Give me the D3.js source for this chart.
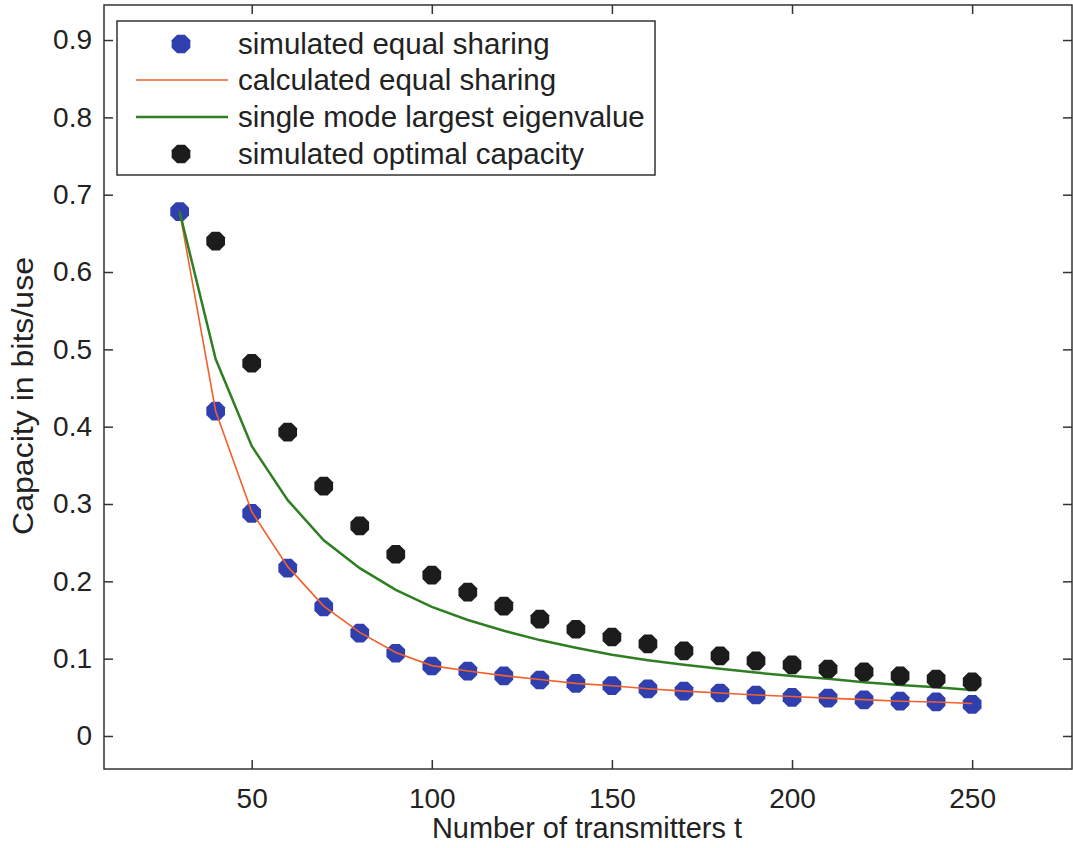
<!DOCTYPE html>
<html><head><meta charset="utf-8">
<script src="https://cdn.jsdelivr.net/npm/d3@7"></script>
<style>
html,body{margin:0;padding:0;background:#fff;}
text{font-family:"Liberation Sans",Arial,Helvetica,sans-serif;fill:#222;}
</style></head>
<body>
<svg id="chart" width="1073" height="848"></svg>
<script>
const transmitters = [30,40,50,60,70,80,90,100,110,120,130,140,150,160,170,180,190,200,210,220,230,240,250];
const simulatedEqual = [0.678,0.420,0.288,0.217,0.167,0.133,0.107,0.0905,0.084,0.0776,0.0724,0.068,0.065,0.061,0.058,0.0556,0.053,0.050,0.049,0.0466,0.045,0.044,0.041];
const calculatedEqual = [0.678,0.420,0.290,0.219,0.168,0.134,0.108,0.091,0.084,0.078,0.073,0.068,0.065,0.061,0.058,0.0556,0.053,0.051,0.049,0.047,0.045,0.044,0.042];
const singleMode = [0.678,0.4875,0.375,0.305,0.253,0.217,0.189,0.167,0.150,0.136,0.124,0.114,0.105,0.098,0.092,0.087,0.082,0.0776,0.074,0.0695,0.066,0.063,0.0595];
const optimalX = [40,50,60,70,80,90,100,110,120,130,140,150,160,170,180,190,200,210,220,230,240,250];
const optimalCapacity = [0.640,0.482,0.393,0.323,0.2716,0.235,0.208,0.186,0.168,0.151,0.138,0.128,0.119,0.110,0.1035,0.097,0.092,0.0866,0.0828,0.0776,0.0737,0.070];
const xTicks = [50,100,150,200,250];
const yTicks = [0,0.1,0.2,0.3,0.4,0.5,0.6,0.7,0.8,0.9];
const legendLabels = ["simulated equal sharing","calculated equal sharing","single mode largest eigenvalue","simulated optimal capacity"];

const colors = {blue:"#2f3fae", orange:"#f2602c", green:"#2f7f22", black:"#1c1c1c", axis:"#333"};

const svg = d3.select("#chart");
const L = 104, R = 1073, T = 5, B = 769;
const x = d3.scaleLinear().domain([9, 278]).range([L, R]);
const y = d3.scaleLinear().domain([-0.0427, 0.9453]).range([B, T]);

// frame
svg.append("rect").attr("x", L).attr("y", T).attr("width", R - L - 1).attr("height", B - T)
  .attr("fill", "none").attr("stroke", colors.axis).attr("stroke-width", 1.5);

// axes (ticks inward)
const xAxis = d3.axisBottom(x).tickValues(xTicks).tickSize(-9).tickPadding(19).tickFormat(d3.format("d"));
const gx = svg.append("g").attr("transform", `translate(0,${B})`).call(xAxis);
const xAxisTop = d3.axisTop(x).tickValues(xTicks).tickSize(-9).tickFormat("");
const gxt = svg.append("g").attr("transform", `translate(0,${T})`).call(xAxisTop);
const yAxis = d3.axisLeft(y).tickValues(yTicks).tickSize(-9).tickPadding(12).tickFormat(d => d === 0 ? "0" : d3.format(".1f")(d));
const gy = svg.append("g").attr("transform", `translate(${L},0)`).call(yAxis);
const yAxisR = d3.axisRight(y).tickValues(yTicks).tickSize(-9).tickFormat("");
const gyr = svg.append("g").attr("transform", `translate(${R - 1},0)`).call(yAxisR);
[gx, gxt, gy, gyr].forEach(g => {
  g.select(".domain").remove();
  g.selectAll(".tick line").attr("stroke", colors.axis).attr("stroke-width", 1.5);
  g.selectAll(".tick text").attr("font-size", 28).attr("fill", "#222")
    .style("font-family", '"Liberation Sans",Arial,sans-serif');
});

// axis labels
svg.append("text").attr("x", 587).attr("y", 838).attr("text-anchor", "middle")
  .attr("font-size", 29).attr("textLength", 310).attr("lengthAdjust", "spacingAndGlyphs")
  .text("Number of transmitters t");
svg.append("text").attr("transform", "translate(33,396) rotate(-90)").attr("text-anchor", "middle")
  .attr("font-size", 29).attr("textLength", 278).attr("lengthAdjust", "spacingAndGlyphs")
  .text("Capacity in bits/use");

// octagon marker
const octagon = d3.symbol().type({
  draw(ctx, size) {
    const r = Math.sqrt(size / 2.83);
    for (let i = 0; i < 8; i++) {
      const a = Math.PI / 8 + i * Math.PI / 4;
      const px = r * Math.cos(a), py = r * Math.sin(a);
      if (i === 0) ctx.moveTo(px, py); else ctx.lineTo(px, py);
    }
    ctx.closePath();
  }
}).size(290);

const line = d3.line().x(d => x(d[0])).y(d => y(d[1]));

// simulated equal sharing (blue markers)
svg.append("g").selectAll("path").data(transmitters.map((t, i) => [t, simulatedEqual[i]])).join("path")
  .attr("d", octagon).attr("transform", d => `translate(${x(d[0])},${y(d[1])})`)
  .attr("fill", colors.blue);

// calculated equal sharing (orange line)
svg.append("path").datum(transmitters.map((t, i) => [t, calculatedEqual[i]]))
  .attr("d", line).attr("fill", "none").attr("stroke", colors.orange).attr("stroke-width", 1.6);

// single mode (green)
svg.append("path").datum(transmitters.map((t, i) => [t, singleMode[i]]))
  .attr("d", line).attr("fill", "none").attr("stroke", colors.green).attr("stroke-width", 2.5);

// optimal (black markers)
svg.append("g").selectAll("path").data(optimalX.map((t, i) => [t, optimalCapacity[i]])).join("path")
  .attr("d", octagon).attr("transform", d => `translate(${x(d[0])},${y(d[1])})`)
  .attr("fill", colors.black);

// legend
const lg = svg.append("g");
lg.append("rect").attr("x", 117).attr("y", 21).attr("width", 538).attr("height", 154)
  .attr("fill", "#fff").attr("stroke", colors.axis).attr("stroke-width", 1.5);
const rowsY = [44, 80, 117, 154];
const kinds = ["mblue", "orange", "green", "mblack"];
legendLabels.forEach((lab, i) => {
  const yy = rowsY[i];
  const k = kinds[i];
  if (k === "mblue" || k === "mblack") {
    lg.append("path").attr("d", octagon).attr("transform", `translate(181,${yy})`)
      .attr("fill", k === "mblue" ? colors.blue : colors.black);
  } else {
    lg.append("line").attr("x1", 136).attr("x2", 228).attr("y1", yy).attr("y2", yy)
      .attr("stroke", k === "orange" ? colors.orange : colors.green)
      .attr("stroke-width", k === "orange" ? 1.6 : 2.5);
  }
  lg.append("text").attr("x", 238).attr("y", yy).attr("dy", "0.35em")
    .attr("font-size", 29.5).text(lab);
});
</script>
</body></html>
